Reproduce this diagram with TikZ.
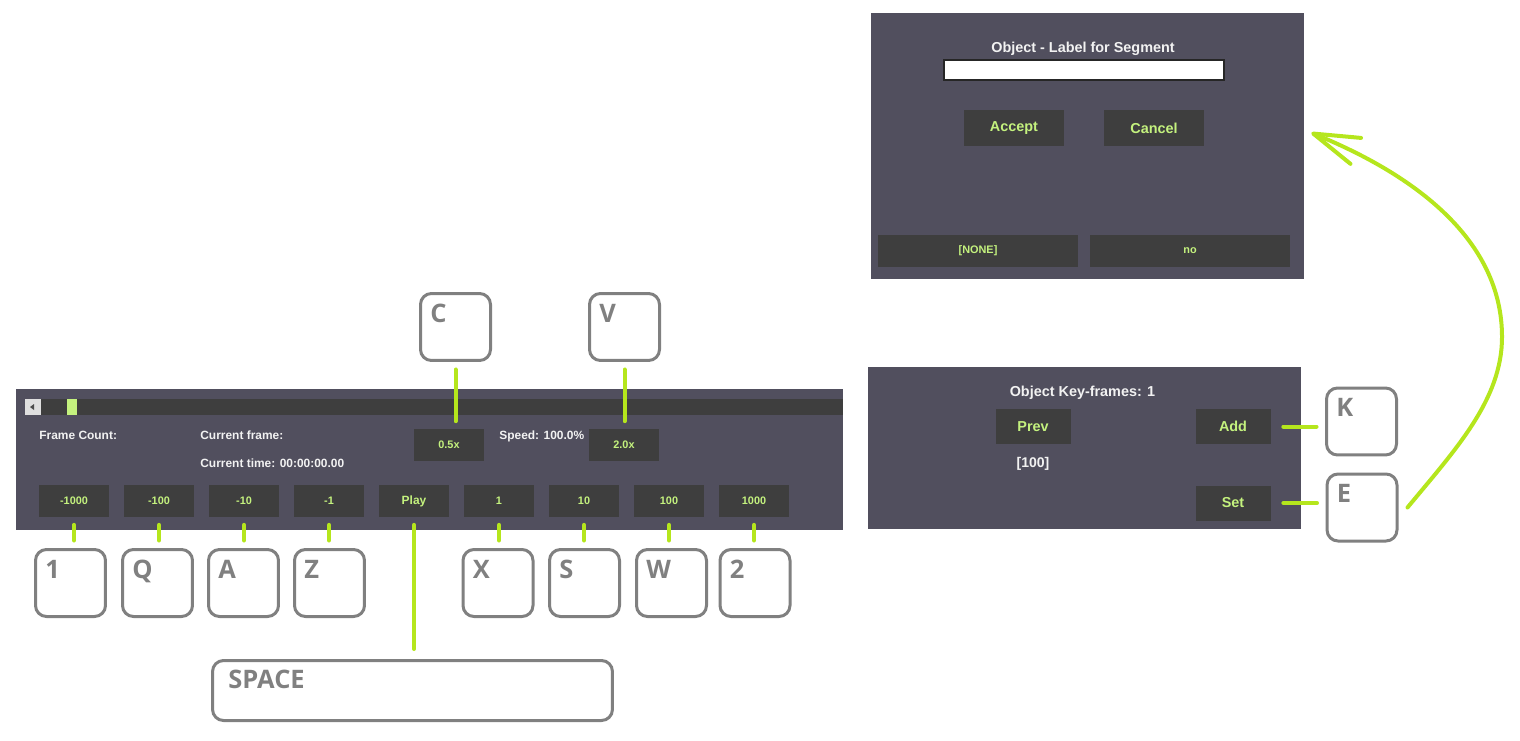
\documentclass[tikz,border=0pt]{standalone}
\usepackage{fontspec}
\setmainfont{Liberation Sans}
\newfontfamily\keyfont{Open Sans}
\usepackage{tikz}
\usetikzlibrary{calc,arrows.meta}
\definecolor{panelbg}{RGB}{81,79,94}
\definecolor{btnbg}{RGB}{62,62,62}
\definecolor{btntext}{RGB}{196,242,126}
\definecolor{guiwhite}{RGB}{242,242,242}
\definecolor{keygray}{RGB}{128,128,128}
\definecolor{limewire}{RGB}{181,230,29}

\begin{document}
\begin{tikzpicture}[x=0.02cm,y=-0.02cm,
	panel/.style={fill=panelbg,inner sep=0pt},
	btn/.style={fill=btnbg,text=btntext,inner sep=0pt,minimum width=1.4cm,minimum height=0.64cm,font=\bfseries\fontsize{6.2}{7}\selectfont},
	bigbtn/.style={btn,minimum width=1.5cm,minimum height=0.7cm,font=\bfseries\fontsize{8.2}{9}\selectfont},
	guitext/.style={text=guiwhite,inner sep=0pt,font=\bfseries\fontsize{6.8}{8}\selectfont},
	keycap/.style={draw=keygray,line width=0.06cm,rounded corners=0.22cm,minimum width=1.4cm,minimum height=1.34cm,inner sep=0pt},
	keyletter/.style={text=keygray,inner sep=0pt,anchor=base west,font=\keyfont\bfseries\fontsize{14.5}{17}\selectfont},
	wire/.style={draw=limewire,line width=0.08cm,line cap=round,shorten <=0.15cm,shorten >=0.15cm}]
	\useasboundingbox (0,0) rectangle (1520,740);
	% player bar
	\node[panel,minimum width=16.54cm,minimum height=2.82cm] (bar) at (429.5,459.5) {};
	\fill[btnbg] (25,399) rectangle (843,415);
	\fill[gray!25] (25,399) rectangle (41,415);
	\fill[black!70] (30,407) -- (34,404) -- (34,410) -- cycle;
	\fill[btntext] (67,399) rectangle (77,415);
	\node[guitext,anchor=base west] (fcount) at (39,439) {Frame Count:};
	\node[guitext,anchor=base west] (cframe) at (200,439) {Current frame:};
	\node[guitext,anchor=base west] (ctime) at (200,467) {Current time: 00:00:00.00};
	\node[guitext,anchor=base west] (speed) at (499,439) {Speed: 100.0\%};
	\node[btn] (slow) at (449,445) {0.5x};
	\node[btn] (fast) at (624,445) {2.0x};
	\node[btn] (bm1000) at (74,501) {-1000};
	\node[btn] (bm100) at (159,501) {-100};
	\node[btn] (bm10) at (244,501) {-10};
	\node[btn] (bm1) at (329,501) {-1};
	\node[btn,font=\bfseries\fontsize{6.8}{8}\selectfont] (play) at (414,501) {Play};
	\node[btn] (bp1) at (499,501) {1};
	\node[btn] (bp10) at (584,501) {10};
	\node[btn] (bp100) at (669,501) {100};
	\node[btn] (bp1000) at (754,501) {1000};
	% key-frame panel
	\node[panel,minimum width=8.66cm,minimum height=3.24cm] (kfpanel) at (1084.5,448) {};
	\node[guitext,anchor=base,font=\bfseries\fontsize{8.2}{9}\selectfont] (kftitle) at (1082.5,396) {Object Key-frames: 1};
	\node[bigbtn] (prev) at (1033,426.5) {Prev};
	\node[guitext,anchor=base,font=\bfseries\fontsize{8}{9}\selectfont] (kfval) at (1033,467) {[100]};
	\node[bigbtn] (add) at (1233,426.5) {Add};
	\node[bigbtn] (set) at (1233,503) {Set};
	% label dialog
	\node[panel,minimum width=8.66cm,minimum height=5.31cm] (dlg) at (1087.5,145.8) {};
	\node[guitext,anchor=base,font=\bfseries\fontsize{8.2}{9}\selectfont] (dlgtitle) at (1083,52.5) {Object - Label for Segment};
	\node[draw=black!85,fill=white,line width=0.04cm,minimum width=5.6cm,minimum height=0.4cm,inner sep=0pt] (field) at (1084,70) {};
	\node[bigbtn,minimum width=2cm,minimum height=0.72cm] (accept) at (1014,128) {Accept};
	\node[bigbtn,minimum width=2cm,minimum height=0.72cm] (cancel) at (1154,128) {Cancel};
	\node[btn,minimum width=4cm] (none) at (978,251) {[NONE]};
	\node[btn,minimum width=4cm] (no) at (1190,251) {no};
	% keys
	\node[keycap] (kc) at (455.5,327) {};
	\node[keycap] (kv) at (624.5,327) {};
	\node[keycap] (k1) at (70.5,583) {};
	\node[keycap] (kq) at (157.5,583) {};
	\node[keycap] (ka) at (243.5,583) {};
	\node[keycap] (kz) at (329.5,583) {};
	\node[keycap] (kx) at (498,583) {};
	\node[keycap] (ks) at (584.5,583) {};
	\node[keycap] (kw) at (671.5,583) {};
	\node[keycap] (k2) at (755,583) {};
	\node[keycap] (kk) at (1361.5,421.5) {};
	\node[keycap] (ke) at (1362,507.5) {};
	\node[keycap,minimum width=8cm,minimum height=1.2cm] (kspace) at (412.5,690.5) {};
	\node[keyletter] at ($(kc.north west)+(11,30)$) {C};
	\node[keyletter] at ($(kv.north west)+(11,30)$) {V};
	\node[keyletter] at ($(k1.north west)+(11,30)$) {1};
	\node[keyletter] at ($(kq.north west)+(11,30)$) {Q};
	\node[keyletter] at ($(ka.north west)+(11,30)$) {A};
	\node[keyletter] at ($(kz.north west)+(11,30)$) {Z};
	\node[keyletter] at ($(kx.north west)+(11,30)$) {X};
	\node[keyletter] at ($(ks.north west)+(11,30)$) {S};
	\node[keyletter] at ($(kw.north west)+(11,30)$) {W};
	\node[keyletter] at ($(k2.north west)+(11,30)$) {2};
	\node[keyletter] at ($(kk.north west)+(11,30)$) {K};
	\node[keyletter] at ($(ke.north west)+(11,30)$) {E};
	\node[keyletter] at ($(kspace.north west)+(17,29)$) {SPACE};
	% connectors
	\draw[wire] (kc.south) -- (kc.south |- slow.north);
	\draw[wire] (kv.south) -- (kv.south |- fast.north);
	\draw[wire] (bm1000.south) -- (bm1000.south |- k1.north);
	\draw[wire] (bm100.south) -- (bm100.south |- kq.north);
	\draw[wire] (bm10.south) -- (bm10.south |- ka.north);
	\draw[wire] (bm1.south) -- (bm1.south |- kz.north);
	\draw[wire,shorten >=0.2cm] (play.south) -- (play.south |- kspace.north);
	\draw[wire] (bp1.south) -- (bp1.south |- kx.north);
	\draw[wire] (bp10.south) -- (bp10.south |- ks.north);
	\draw[wire] (bp100.south) -- (bp100.south |- kw.north);
	\draw[wire] (bp1000.south) -- (bp1000.south |- k2.north);
	\draw[wire,shorten <=0.25cm,shorten >=0.17cm] (add.east) -- (add.east -| kk.west);
	\draw[wire,shorten <=0.25cm,shorten >=0.17cm] (set.east) -- (set.east -| ke.west);
	\draw[wire,shorten <=0pt,shorten >=0pt,-{Straight Barb[length=0.92cm,width=0.56cm,round]}] ($(ke.east)+(9,0)$) .. controls (1455,450) and (1502,400) .. (1502,337) .. controls (1502,240) and (1415,175) .. ($(dlg.east)+(7,-13)$);
\end{tikzpicture}
\end{document}
